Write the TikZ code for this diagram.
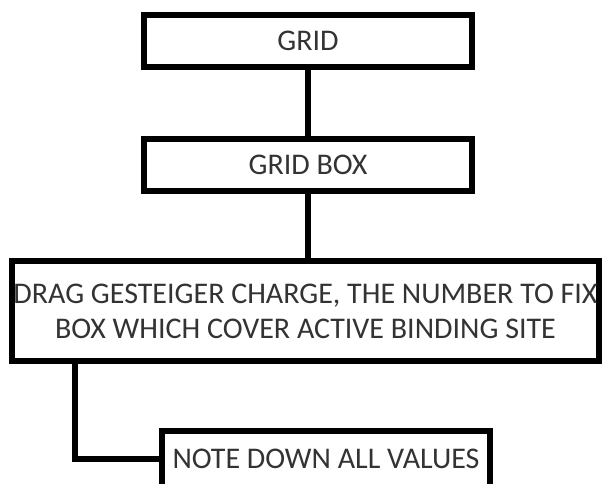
\documentclass[tikz,border=0pt]{standalone}
\usepackage{fontspec}
\setmainfont{Carlito}
\usepackage{tikz}
\usetikzlibrary{positioning,calc}

\begin{document}
\begin{tikzpicture}[x=0.75pt,y=-0.75pt,
    stepbox/.style={draw,line width=4.5pt,fill=white,align=center,
      text=black!80,font=\fontsize{22.5}{26.25}\selectfont,inner sep=0pt},
    link/.style={line width=4.5pt,line join=miter}]
  \clip (0,0) rectangle (603,483);
  \node[stepbox,minimum width=246pt,minimum height=39pt] (grid) at (308,41) {GRID};
  \node[stepbox,minimum width=246pt,minimum height=39pt] (gridbox) at (308,165) {GRID BOX};
  \node[stepbox,minimum width=440.25pt,minimum height=75pt] (drag) at (305.5,311)
      {DRAG GESTEIGER CHARGE, THE NUMBER TO FIX\\BOX WHICH COVER ACTIVE BINDING SITE};
  \node[stepbox,minimum width=246pt,minimum height=42pt] (note) at (326,459) {NOTE DOWN ALL VALUES};
  \coordinate (turn) at (75,457);
  \draw[link] (grid.south) -- (gridbox.north);
  \draw[link] (gridbox.south) -- (gridbox.south |- drag.north);
  \draw[link] (drag.south -| turn) -- (turn |- note.west) -- (note.west);
\end{tikzpicture}
\end{document}
